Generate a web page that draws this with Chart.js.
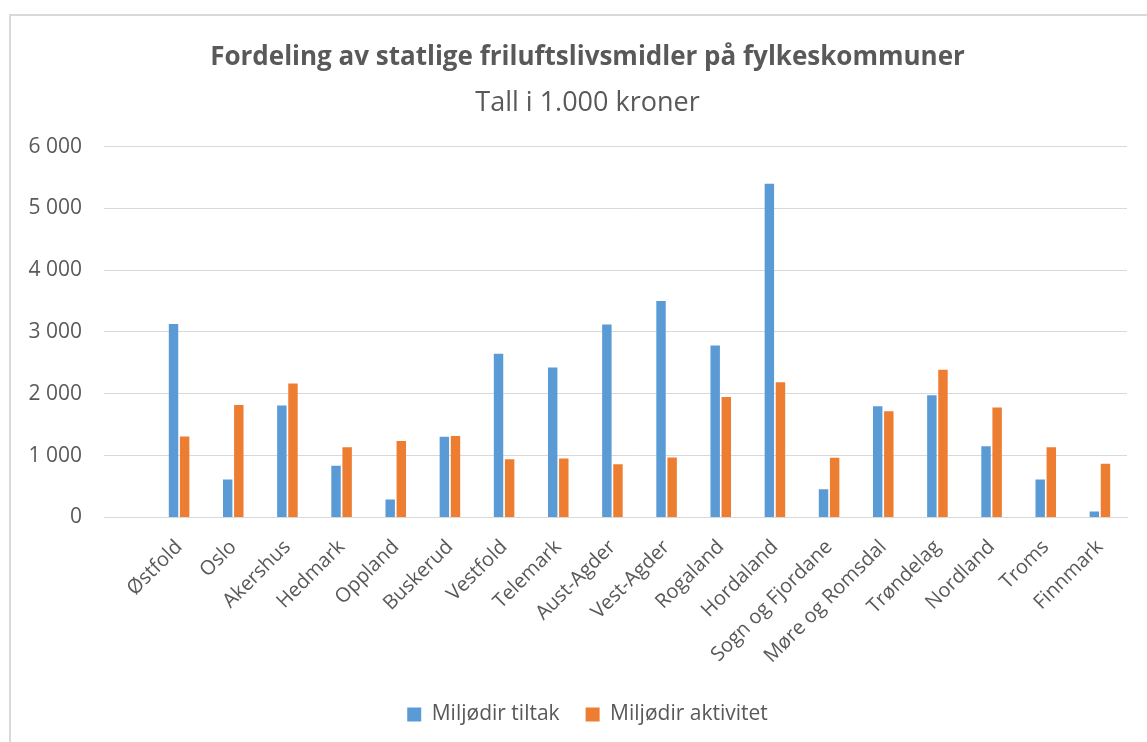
<!DOCTYPE html>
<html>
<head>
<meta charset="utf-8">
<script src="https://cdn.jsdelivr.net/npm/chart.js@4"></script>
<style>
  html, body { margin: 0; padding: 0; background: #fff; overflow: hidden; }
  #frame {
    position: absolute; left: 9px; top: 14px;
    width: 1200px; height: 800px;
    border-top: 2px solid #d9d9d9; border-left: 2px solid #d9d9d9;
  }
  #wrap { position: absolute; left: 0; top: 0; width: 1147px; height: 742px; }
</style>
</head>
<body>
<div id="frame"></div>
<div id="wrap"><canvas id="barChart"></canvas></div>
<script>
const fylker = ['Østfold', 'Oslo', 'Akershus', 'Hedmark', 'Oppland', 'Buskerud', 'Vestfold',
	'Telemark', 'Aust-Agder', 'Vest-Agder', 'Rogaland', 'Hordaland', 'Sogn og Fjordane',
	'Møre og Romsdal', 'Trøndelag', 'Nordland', 'Troms', 'Finnmark'];
const tiltak = [3130, 615, 1810, 837, 290, 1307, 2650, 2425, 3120, 3500, 2780, 5400, 455, 1800, 1975, 1150, 615, 97];
const aktivitet = [1310, 1820, 2165, 1134, 1237, 1318, 940, 955, 860, 970, 1950, 2185, 965, 1717, 2390, 1780, 1135, 870];
const yTickLabels = ['0', '1 000', '2 000', '3 000', '4 000', '5 000', '6 000'];

const textColor = '#595959';

Chart.defaults.font.family = '"Open Sans", Lato, sans-serif';
Chart.defaults.color = textColor;

const data = {
	labels: fylker,
	datasets: [
		{
			label: 'Miljødir tiltak',
			data: tiltak,
			backgroundColor: '#5b9bd5',
			categoryPercentage: 0.41,
			barPercentage: 0.85
		},
		{
			label: 'Miljødir aktivitet',
			data: aktivitet,
			backgroundColor: '#ed7d31',
			categoryPercentage: 0.41,
			barPercentage: 0.85
		}
	]
};

const config = {
	type: 'bar',
	data,
	options: {
		responsive: true,
		maintainAspectRatio: false,
		animation: false,
		layout: {
			padding: { top: 42, left: 28, right: 0, bottom: 7 }
		},
		plugins: {
			title: {
				display: true,
				text: 'Fordeling av statlige friluftslivsmidler på fylkeskommuner',
				color: textColor,
				font: { size: 26, weight: 'bold' },
				padding: { top: 0, bottom: 14 }
			},
			subtitle: {
				display: true,
				text: 'Tall i 1.000 kroner',
				color: textColor,
				font: { size: 27 },
				padding: { top: 0, bottom: 27 }
			},
			legend: {
				position: 'bottom',
				labels: {
					boxWidth: 14,
					boxHeight: 14,
					padding: 26,
					font: { size: 21 },
					color: textColor
				}
			},
			tooltip: { enabled: false }
		},
		scales: {
			x: {
				grid: { display: false },
				border: { color: '#d9d9d9' },
				ticks: {
					maxRotation: 45,
					minRotation: 45,
					autoSkip: false,
					padding: 10,
					font: { size: 20 },
					color: textColor
				}
			},
			y: {
				min: 0,
				max: 6000,
				border: { display: false },
				grid: { color: '#d9d9d9', tickLength: 48 },
				afterFit: function (scale) {
					scale.width = 124;
				},
				ticks: {
					stepSize: 1000,
					padding: 22,
					font: { size: 21 },
					color: textColor,
					callback: function (value) {
						return yTickLabels[value / 1000];
					}
				}
			},
			// empty right-hand margin so title and legend centre like the original
			margin: {
				position: 'right',
				grid: { display: false },
				border: { display: false },
				ticks: { display: false },
				afterFit: function (scale) {
					scale.width = 20;
				}
			}
		}
	}
};

const myChart = new Chart(document.getElementById('barChart'), config);
</script>
</body>
</html>
